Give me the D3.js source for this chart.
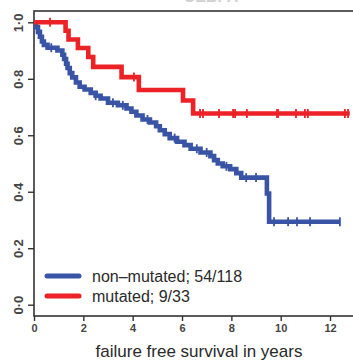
<!DOCTYPE html>
<html>
<head>
<meta charset="utf-8">
<script src="https://cdn.jsdelivr.net/npm/d3@7"></script>
<style>
  html, body { margin: 0; padding: 0; background: #fff; }
  svg { display: block; }
  text { font-family: "Liberation Sans", Arial, sans-serif; }
</style>
</head>
<body>
<div id="chart"></div>
<script>
// Kaplan-Meier steps: time (years) where the curve drops, and level after the drop
const blueTimes = [0, 0.08, 0.16, 0.24, 0.32, 0.40, 0.55, 0.95, 1.15, 1.22, 1.30, 1.36, 1.45, 1.55, 1.70, 1.85,
  2.05, 2.30, 2.50, 2.70, 3.00, 3.40, 3.75, 3.95, 4.15, 4.40, 4.70, 4.95, 5.10, 5.30, 5.50, 5.80,
  6.10, 6.35, 6.75, 7.15, 7.30, 7.45, 7.65, 7.95, 8.20, 8.40, 9.44, 9.53];
const blueSurv = [1.0, 0.983, 0.966, 0.949, 0.932, 0.92, 0.91, 0.90, 0.885, 0.87, 0.853, 0.838, 0.82, 0.805, 0.787, 0.772,
  0.762, 0.75, 0.74, 0.73, 0.715, 0.706, 0.695, 0.683, 0.67, 0.656, 0.645, 0.632, 0.618, 0.604, 0.59, 0.577,
  0.565, 0.552, 0.539, 0.526, 0.512, 0.50, 0.49, 0.48, 0.466, 0.45, 0.394, 0.294];
const blueEnd = 12.4;
const blueCensor = [0.7, 2.5, 3.2, 3.6, 4.6, 5.7, 6.6, 7.0, 7.8, 8.6, 9.0, 9.73, 10.3, 10.66, 11.19, 12.4];

const redTimes = [0, 1.28, 1.40, 1.78, 2.20, 2.40, 3.55, 4.25, 6.04, 6.45];
const redSurv = [1.0, 0.970, 0.939, 0.909, 0.877, 0.842, 0.806, 0.760, 0.723, 0.677];
const redEnd = 12.8;
const redCensor = [0.65, 4.05, 6.73, 6.85, 7.5, 8.07, 8.15, 8.63, 9.85, 9.89, 10.62, 10.98, 11.1, 12.6, 12.73];

const xTicks = [0, 2, 4, 6, 8, 10, 12];
const yTicks = [0, 0.2, 0.4, 0.6, 0.8, 1.0];
const legendLabels = ["non\u2013mutated; 54/118", "mutated; 9/33"];
const colors = ["#3a54a5", "#ec2227"];

const width = 353, height = 361;
const margin = { top: 11, left: 34, bottom: 45 };

const x = d3.scaleLinear().domain([0, 13]).range([margin.left, margin.left + 13 * 24.67]);
const y = d3.scaleLinear().domain([-0.04, 1.04]).range([height - margin.bottom, margin.top]);

const svg = d3.select("#chart").append("svg")
  .attr("width", width)
  .attr("height", height);

// faint title, cut off at the top edge as in the source
svg.append("text")
  .attr("x", 211).attr("y", 1.5)
  .attr("text-anchor", "middle")
  .attr("font-size", 16).attr("font-weight", "bold")
  .attr("fill", "#d0d0d0")
  .text("CEBPA");

// frame
svg.append("rect")
  .attr("x", x(0)).attr("y", y(1.04))
  .attr("width", x(13) - x(0)).attr("height", y(-0.04) - y(1.04))
  .attr("fill", "none").attr("stroke", "#333").attr("stroke-width", 1.6);

// axes
const xAxis = svg.append("g")
  .attr("transform", `translate(0,${y(-0.04)})`)
  .call(d3.axisBottom(x).tickValues(xTicks).tickSize(5).tickPadding(3).tickFormat(d3.format("d")));

const yAxis = svg.append("g")
  .attr("transform", `translate(${x(0)},0)`)
  .call(d3.axisLeft(y).tickValues(yTicks).tickSize(6).tickFormat(d => d3.format(".1f")(d).replace(".", "\u00b7")));

[xAxis, yAxis].forEach(a => {
  a.select(".domain").remove();
  a.selectAll(".tick line").attr("stroke", "#333").attr("stroke-width", 1.4);
  a.selectAll(".tick text")
    .attr("font-size", 11).attr("font-weight", "bold")
    .attr("fill", "#444").attr("font-family", "Liberation Sans, Arial, sans-serif");
});

// y tick labels read bottom-to-top
yAxis.selectAll(".tick text")
  .attr("x", null).attr("dy", null)
  .attr("font-size", 13)
  .attr("text-anchor", "middle")
  .attr("transform", "translate(-16,0) rotate(-90)")
  .attr("dominant-baseline", "central");

// km step path from arrays
function kmPath(times, surv, end) {
  const pts = [];
  times.forEach((t, i) => {
    if (i > 0) pts.push([t, surv[i - 1]]);
    pts.push([t, surv[i]]);
  });
  pts.push([end, surv[surv.length - 1]]);
  return d3.line().x(d => x(d[0])).y(d => y(d[1]))(pts);
}

function survAt(times, surv, t) {
  const i = d3.bisectRight(times, t) - 1;
  return surv[Math.max(0, i)];
}

const curves = [
  { times: blueTimes, surv: blueSurv, end: blueEnd, censor: blueCensor, color: colors[0] },
  { times: redTimes, surv: redSurv, end: redEnd, censor: redCensor, color: colors[1] }
];

curves.forEach(c => {
  const g = svg.append("g");
  g.append("path")
    .attr("d", kmPath(c.times, c.surv, c.end))
    .attr("fill", "none")
    .attr("stroke", c.color)
    .attr("stroke-width", 4.6)
    .attr("stroke-linejoin", "miter");

  g.selectAll("line")
    .data(c.censor)
    .enter().append("line")
    .attr("x1", d => x(d)).attr("x2", d => x(d))
    .attr("y1", d => y(survAt(c.times, c.surv, d)) - 4.5)
    .attr("y2", d => y(survAt(c.times, c.surv, d)) + 4.5)
    .attr("stroke", c.color)
    .attr("stroke-width", 1.8);
});

// legend
const legend = svg.append("g");
legendLabels.forEach((l, i) => {
  const ly = 276 + i * 20;
  legend.append("line")
    .attr("x1", 47).attr("x2", 79)
    .attr("y1", ly).attr("y2", ly)
    .attr("stroke", colors[i])
    .attr("stroke-width", 5)
    .attr("stroke-linecap", "round");
  legend.append("text")
    .attr("x", 92).attr("y", ly + 6)
    .attr("font-size", 16)
    .attr("fill", "#2a2a2a")
    .text(l);
});

// x axis title
svg.append("text")
  .attr("x", 199).attr("y", 357)
  .attr("text-anchor", "middle")
  .attr("font-size", 17)
  .attr("fill", "#2a2a2a")
  .text("failure free survival in years");
</script>
</body>
</html>
